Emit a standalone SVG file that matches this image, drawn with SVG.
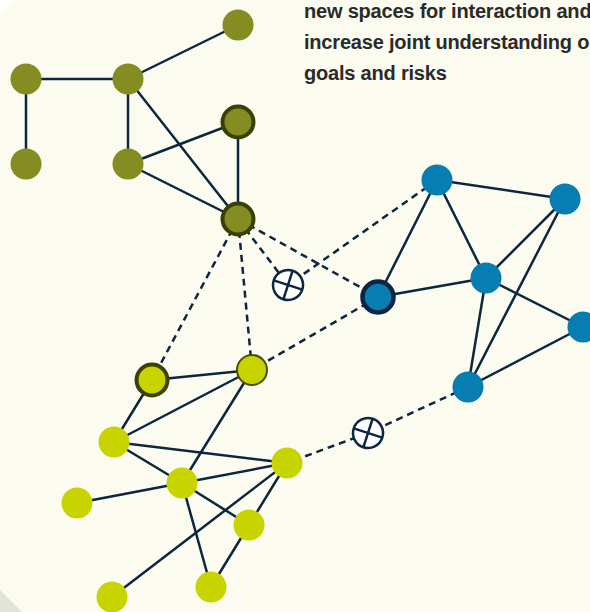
<svg xmlns="http://www.w3.org/2000/svg" width="590" height="612" viewBox="0 0 590 612">
  <style>
    .edge { stroke: #0d2640; stroke-width: 2.5; fill: none; stroke-linecap: round; }
    .dash { stroke: #0d2640; stroke-width: 2.5; fill: none; stroke-dasharray: 7 5; }
    .olive { fill: #858c22; }
    .olive-hi { fill: #858c22; stroke: #394003; stroke-width: 4; }
    .blue { fill: #087db1; }
    .blue-hi { fill: #087db1; stroke: #0c2544; stroke-width: 4.5; }
    .lime { fill: #c8d400; }
    .lime-hi { fill: #c8d400; stroke: #3a4103; stroke-width: 4; }
    .lime-rim { fill: #c8d400; stroke: #4a4d05; stroke-width: 2; }
    .gate circle { fill: #ffffff; stroke: #0d2640; stroke-width: 2.5; }
    .gate line { stroke: #0d2640; stroke-width: 2.5; }
    .caption { font-family: "Liberation Sans", Arial, sans-serif; font-weight: bold; font-size: 20px; letter-spacing: -0.2px; fill: #2a2a2a; }
  </style>

  <!-- page background -->
  <rect x="0" y="0" width="590" height="612" fill="#fbfcef"/>
  <polygon points="0,0 15,0 0,15" fill="#ffffff"/>
  <polygon points="0,590 22,612 0,612" fill="#e2e3d8"/>

  <!-- caption -->
  <g id="caption" class="caption">
    <text x="304" y="18">new spaces for interaction and</text>
    <text x="304" y="49">increase joint understanding o</text>
    <text x="304" y="80">goals and risks</text>
  </g>

  <!-- connectors -->
  <g id="connectors">
    <!-- olive cluster -->
    <line class="edge" x1="26" y1="79" x2="128" y2="79"/>
    <line class="edge" x1="26" y1="79" x2="26" y2="164"/>
    <line class="edge" x1="128" y1="79" x2="238" y2="25"/>
    <line class="edge" x1="128" y1="79" x2="128" y2="164"/>
    <line class="edge" x1="128" y1="79" x2="238" y2="219"/>
    <line class="edge" x1="128" y1="164" x2="238" y2="122"/>
    <line class="edge" x1="128" y1="164" x2="238" y2="219"/>
    <line class="edge" x1="238" y1="122" x2="238" y2="219"/>
    <!-- blue cluster -->
    <line class="edge" x1="437" y1="180" x2="565" y2="199"/>
    <line class="edge" x1="437" y1="180" x2="486" y2="278"/>
    <line class="edge" x1="437" y1="180" x2="378" y2="297"/>
    <line class="edge" x1="378" y1="297" x2="486" y2="278"/>
    <line class="edge" x1="565" y1="199" x2="486" y2="278"/>
    <line class="edge" x1="565" y1="199" x2="468" y2="387"/>
    <line class="edge" x1="486" y1="278" x2="468" y2="387"/>
    <line class="edge" x1="486" y1="278" x2="583" y2="327"/>
    <line class="edge" x1="583" y1="327" x2="468" y2="387"/>
    <!-- lime cluster -->
    <line class="edge" x1="152" y1="380" x2="252" y2="370"/>
    <line class="edge" x1="152" y1="380" x2="114" y2="442"/>
    <line class="edge" x1="114" y1="442" x2="252" y2="370"/>
    <line class="edge" x1="252" y1="370" x2="182" y2="483"/>
    <line class="edge" x1="114" y1="442" x2="287" y2="463"/>
    <line class="edge" x1="114" y1="442" x2="182" y2="483"/>
    <line class="edge" x1="182" y1="483" x2="77" y2="503"/>
    <line class="edge" x1="182" y1="483" x2="287" y2="463"/>
    <line class="edge" x1="182" y1="483" x2="249" y2="525"/>
    <line class="edge" x1="182" y1="483" x2="211" y2="587"/>
    <line class="edge" x1="287" y1="463" x2="249" y2="525"/>
    <line class="edge" x1="287" y1="463" x2="112" y2="597"/>
    <line class="edge" x1="249" y1="525" x2="211" y2="587"/>
    <!-- cross-cluster links -->
    <line class="dash" x1="238" y1="219" x2="152" y2="380"/>
    <line class="dash" x1="238" y1="219" x2="252" y2="370"/>
    <line class="dash" x1="238" y1="219" x2="288" y2="285"/>
    <line class="dash" x1="238" y1="219" x2="378" y2="297"/>
    <line class="dash" x1="437" y1="180" x2="288" y2="285"/>
    <line class="dash" x1="378" y1="297" x2="252" y2="370"/>
    <line class="dash" x1="468" y1="387" x2="368" y2="433"/>
    <line class="dash" x1="368" y1="433" x2="287" y2="463"/>
  </g>

  <!-- blocked links -->
  <g id="gate-1" class="gate" transform="translate(288,285) rotate(18)">
    <circle r="15"/>
    <line x1="-15" y1="0" x2="15" y2="0"/>
    <line x1="0" y1="-15" x2="0" y2="15"/>
  </g>
  <g id="gate-2" class="gate" transform="translate(368,433) rotate(18)">
    <circle r="15"/>
    <line x1="-15" y1="0" x2="15" y2="0"/>
    <line x1="0" y1="-15" x2="0" y2="15"/>
  </g>

  <!-- olive nodes -->
  <g id="olive-1"><circle class="olive" cx="238" cy="25" r="15.5"/></g>
  <g id="olive-2"><circle class="olive" cx="26" cy="79" r="15.5"/></g>
  <g id="olive-3"><circle class="olive" cx="128" cy="79" r="15.5"/></g>
  <g id="olive-4"><circle class="olive" cx="26" cy="164" r="15.5"/></g>
  <g id="olive-5"><circle class="olive" cx="128" cy="164" r="15.5"/></g>
  <g id="olive-6"><circle class="olive-hi" cx="238" cy="122" r="15.5"/></g>
  <g id="olive-7"><circle class="olive-hi" cx="238" cy="219" r="15.5"/></g>

  <!-- blue nodes -->
  <g id="blue-1"><circle class="blue" cx="437" cy="180" r="15.5"/></g>
  <g id="blue-2"><circle class="blue" cx="565" cy="199" r="15.5"/></g>
  <g id="blue-3"><circle class="blue" cx="486" cy="278" r="15.5"/></g>
  <g id="blue-4"><circle class="blue" cx="583" cy="327" r="15.5"/></g>
  <g id="blue-5"><circle class="blue" cx="468" cy="387" r="15.5"/></g>
  <g id="blue-6"><circle class="blue-hi" cx="378" cy="297" r="15.5"/></g>

  <!-- lime nodes -->
  <g id="lime-1"><circle class="lime-hi" cx="152" cy="380" r="15.5"/></g>
  <g id="lime-2"><circle class="lime-rim" cx="252" cy="370" r="15"/></g>
  <g id="lime-3"><circle class="lime" cx="114" cy="442" r="15.5"/></g>
  <g id="lime-4"><circle class="lime" cx="182" cy="483" r="15.5"/></g>
  <g id="lime-5"><circle class="lime" cx="287" cy="463" r="15.5"/></g>
  <g id="lime-6"><circle class="lime" cx="77" cy="503" r="15.5"/></g>
  <g id="lime-7"><circle class="lime" cx="249" cy="525" r="15.5"/></g>
  <g id="lime-8"><circle class="lime" cx="112" cy="597" r="15.5"/></g>
  <g id="lime-9"><circle class="lime" cx="211" cy="587" r="15.5"/></g>
</svg>
